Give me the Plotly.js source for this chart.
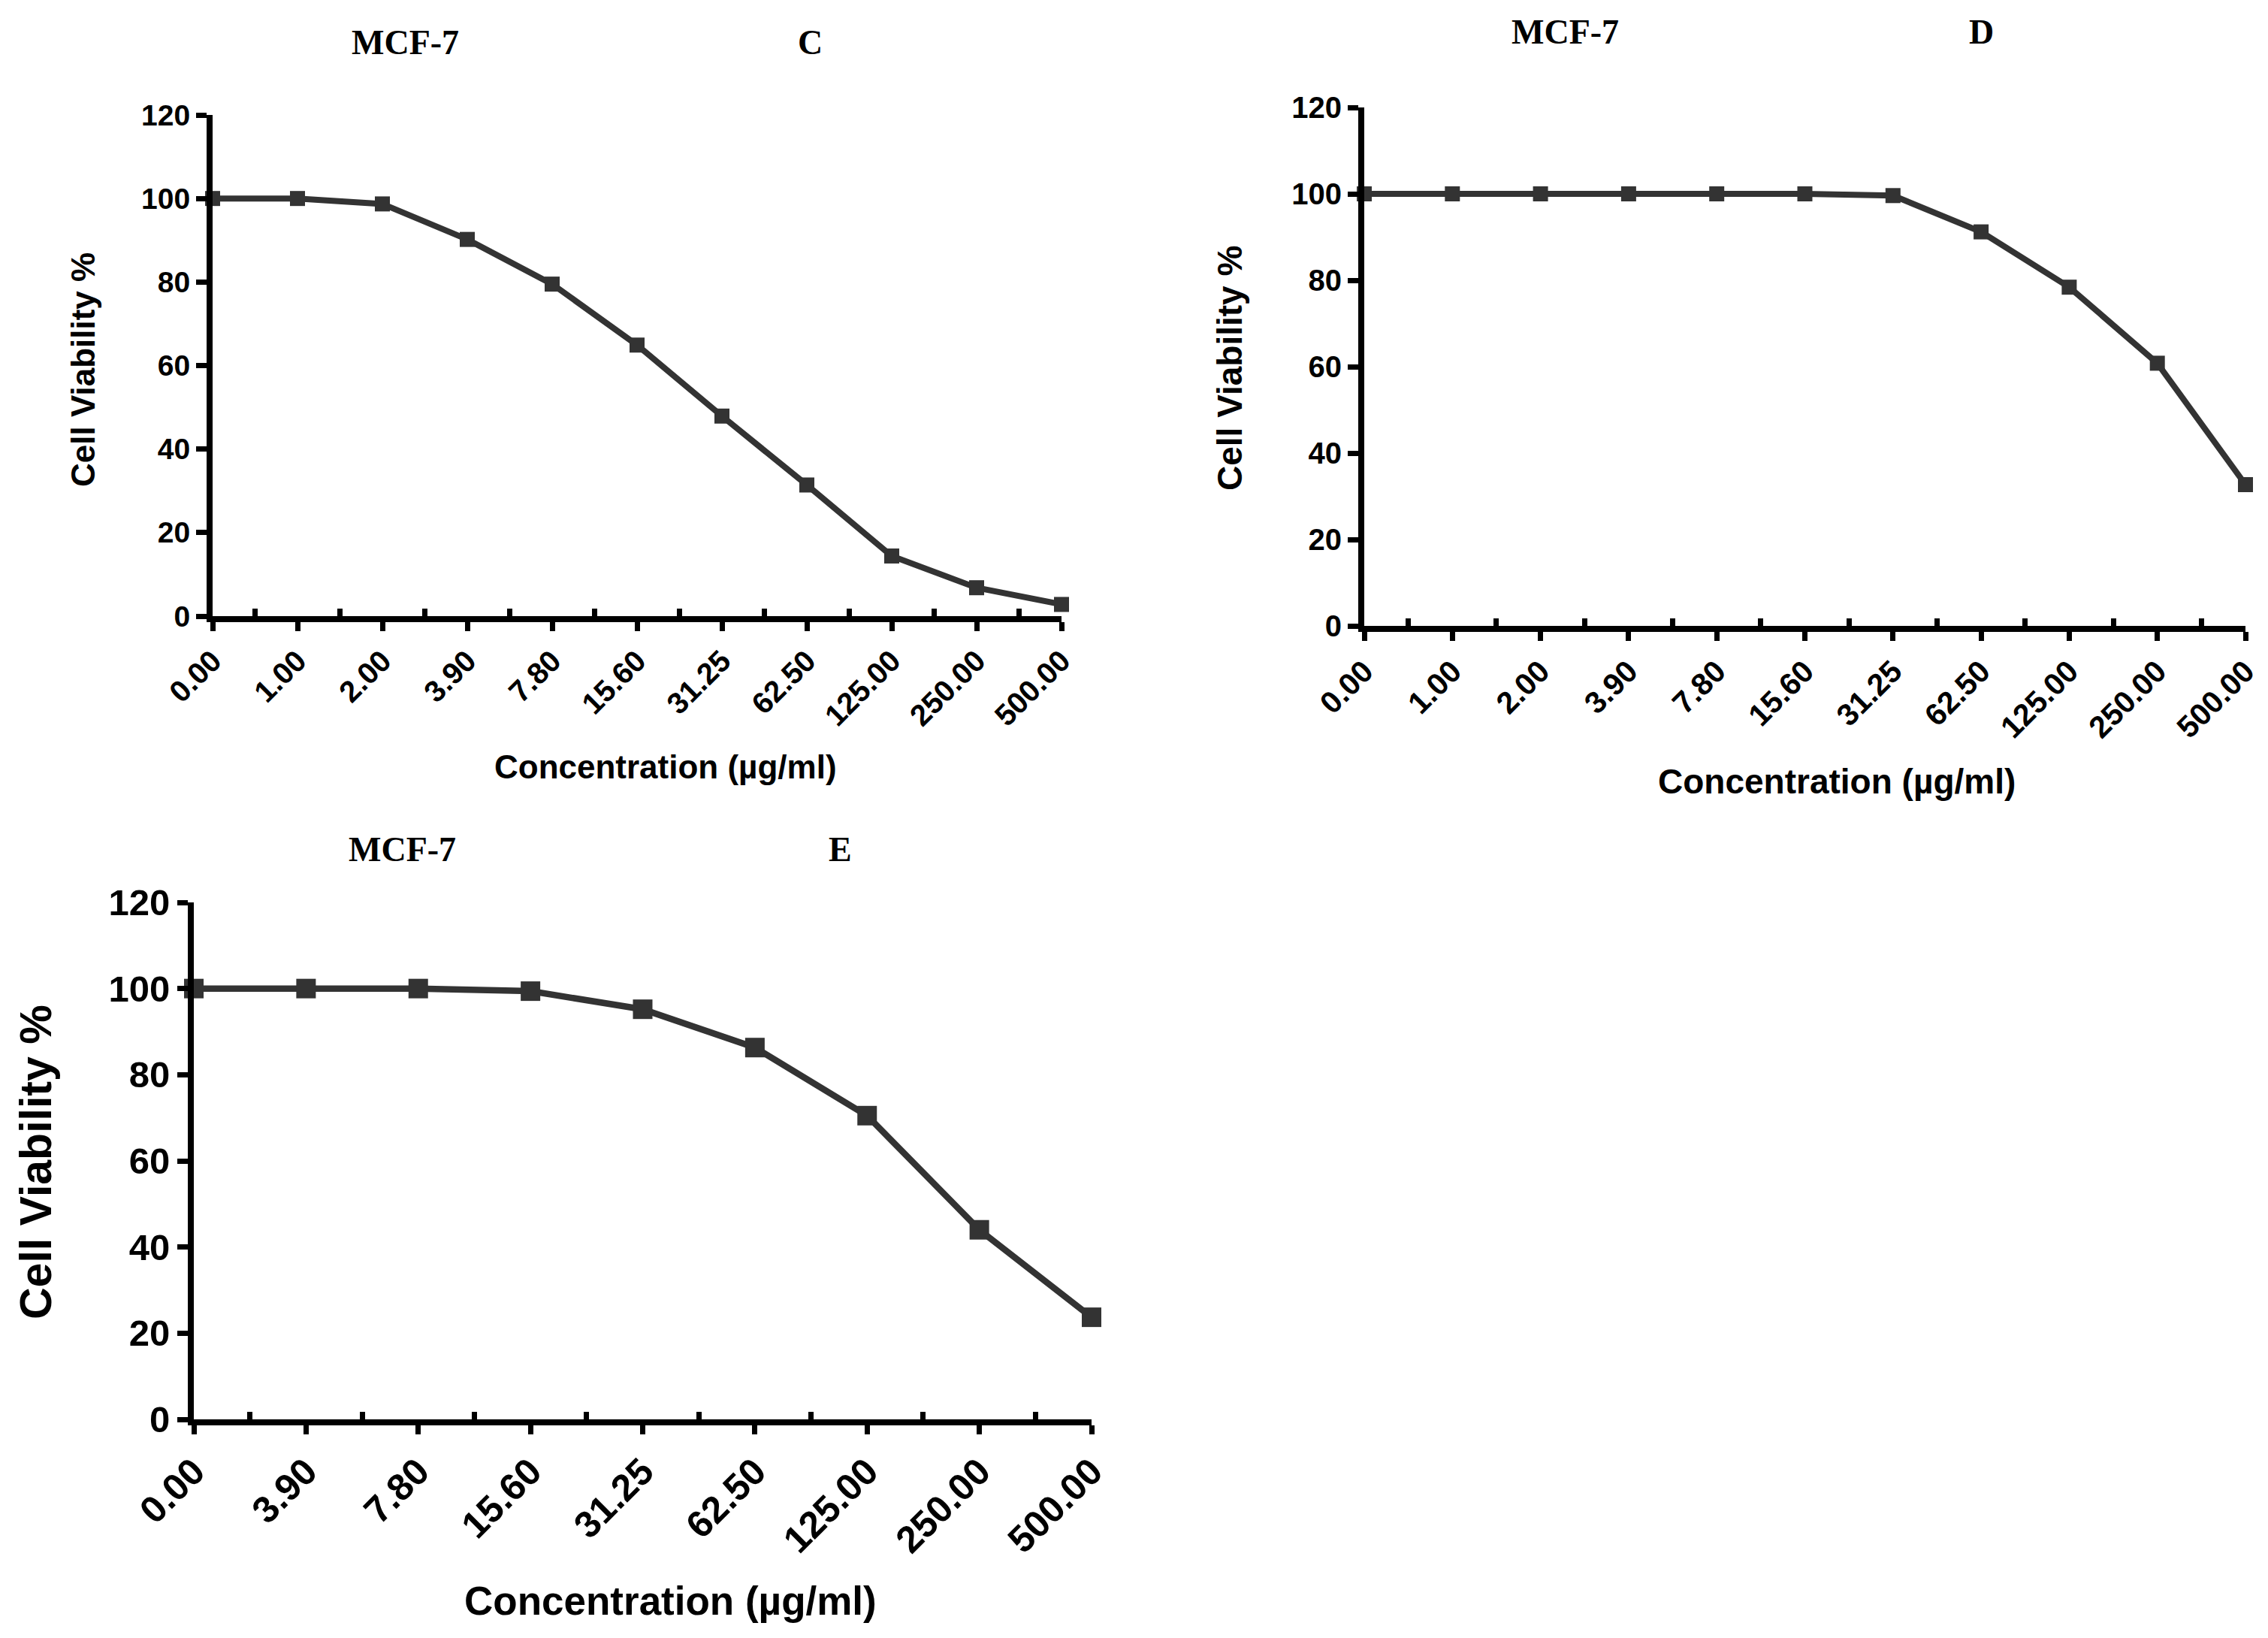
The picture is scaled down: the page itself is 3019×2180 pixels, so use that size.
<!DOCTYPE html>
<html>
<head>
<meta charset="utf-8">
<script src="https://cdn.plot.ly/plotly-3.0.1.min.js"></script>
<style>html,body{margin:0;padding:0;background:#fff;}</style>
</head>
<body>
<div id="chart" style="width:3019px;height:2180px;"></div>
<script>
// ---- data ----
const catsC = ['0.00','1.00','2.00','3.90','7.80','15.60','31.25','62.50','125.00','250.00','500.00'];
const viabC = [100, 100, 98.7, 90.2, 79.5, 64.9, 47.9, 31.4, 14.4, 6.8, 2.8];

const catsD = ['0.00','1.00','2.00','3.90','7.80','15.60','31.25','62.50','125.00','250.00','500.00'];
const viabD = [100, 100, 100, 100, 100, 100, 99.6, 91.2, 78.4, 60.8, 32.7];

const catsE = ['0.00','3.90','7.80','15.60','31.25','62.50','125.00','250.00','500.00'];
const viabE = [100, 100, 100, 99.4, 95.2, 86.3, 70.5, 44.0, 23.7];

const yTicks = [0, 20, 40, 60, 80, 100, 120];
const panelTitle = 'MCF-7';
const panelLetters = ['C', 'D', 'E'];
const xTitle = 'Concentration (µg/ml)';
const yTitle = 'Cell Viability %';

// ---- helpers ----
const W = 3019, H = 2180;
const SANS = 'Liberation Sans, Arial, sans-serif';
const SERIF = 'Liberation Serif, Times New Roman, serif';
const idx = arr => arr.map((_, i) => i);
const mids = arr => arr.slice(1).map((_, i) => i + 0.5);
const px2x = p => p / W;
const px2y = p => 1 - p / H;

function trace(cats, vals, xa, ya, msize, lw) {
  return {
    type: 'scatter', mode: 'lines+markers',
    x: idx(cats), y: vals, xaxis: xa, yaxis: ya,
    line: {color: '#333333', width: lw},
    marker: {symbol: 'square', size: msize, color: '#333333'},
    cliponaxis: false, hoverinfo: 'skip'
  };
}

function xaxis(cats, dom, anchor, fs) {
  return {
    domain: dom, anchor: anchor, range: [0, cats.length - 1],
    tickmode: 'array', tickvals: idx(cats), ticktext: cats,
    tickangle: -45, ticks: 'outside', ticklen: 12, tickwidth: 7, tickcolor: '#000',
    minor: {tickmode: 'array', tickvals: mids(cats), ticks: 'inside', ticklen: 10, tickwidth: 7, tickcolor: '#000'},
    showline: true, linewidth: 8, linecolor: '#000',
    showgrid: false, zeroline: false, fixedrange: true,
    tickfont: {family: SANS, size: fs, color: '#000', weight: 'bold'}
  };
}
function yaxis(dom, anchor, fs) {
  return {
    domain: dom, anchor: anchor, range: [0, 120],
    tickmode: 'array', tickvals: yTicks, ticktext: yTicks.map(String),
    ticks: 'outside', ticklen: 14, tickwidth: 7, tickcolor: '#000',
    showline: true, linewidth: 8, linecolor: '#000',
    showgrid: false, zeroline: false, fixedrange: true,
    tickfont: {family: SANS, size: fs, color: '#000', weight: 'bold'}
  };
}
function ann(text, x, y, font, size, angle) {
  return {
    text: text, xref: 'paper', yref: 'paper', x: px2x(x), y: px2y(y),
    xanchor: 'center', yanchor: 'middle', showarrow: false, textangle: angle || 0,
    font: {family: font, size: size, color: '#000', weight: 'bold'}
  };
}

const data = [
  trace(catsC, viabC, 'x', 'y', 20, 8),
  trace(catsD, viabD, 'x2', 'y2', 20, 8),
  trace(catsE, viabE, 'x3', 'y3', 26, 8.5)
];

const layout = {
  width: W, height: H,
  margin: {l: 0, r: 0, t: 0, b: 0},
  paper_bgcolor: '#fff', plot_bgcolor: '#fff',
  showlegend: false,
  xaxis:  xaxis(catsC, [px2x(283), px2x(1413)], 'y', 40),
  yaxis:  yaxis([px2y(820), px2y(153)], 'x', 39),
  xaxis2: xaxis(catsD, [px2x(1816), px2x(2989)], 'y2', 41),
  yaxis2: yaxis([px2y(833), px2y(143)], 'x2', 40),
  xaxis3: xaxis(catsE, [px2x(258), px2x(1453)], 'y3', 50),
  yaxis3: yaxis([px2y(1889), px2y(1201)], 'x3', 49),
  annotations: [
    ann(panelTitle, 539, 56, SERIF, 46),
    ann(panelLetters[0], 1078, 56, SERIF, 46),
    ann(panelTitle, 2083, 43, SERIF, 46),
    ann(panelLetters[1], 2637, 43, SERIF, 46),
    ann(panelTitle, 535, 1130, SERIF, 46),
    ann(panelLetters[2], 1118, 1130, SERIF, 46),
    ann(yTitle, 110, 492, SANS, 44, -90),
    ann(yTitle, 1637, 490, SANS, 46, -90),
    ann(yTitle, 48, 1547, SANS, 59, -90),
    ann(xTitle, 886, 1020, SANS, 44),
    ann(xTitle, 2445, 1040, SANS, 46),
    ann(xTitle, 892, 2130, SANS, 53)
  ]
};

Plotly.newPlot('chart', data, layout, {staticPlot: true, displayModeBar: false});
</script>
</body>
</html>
